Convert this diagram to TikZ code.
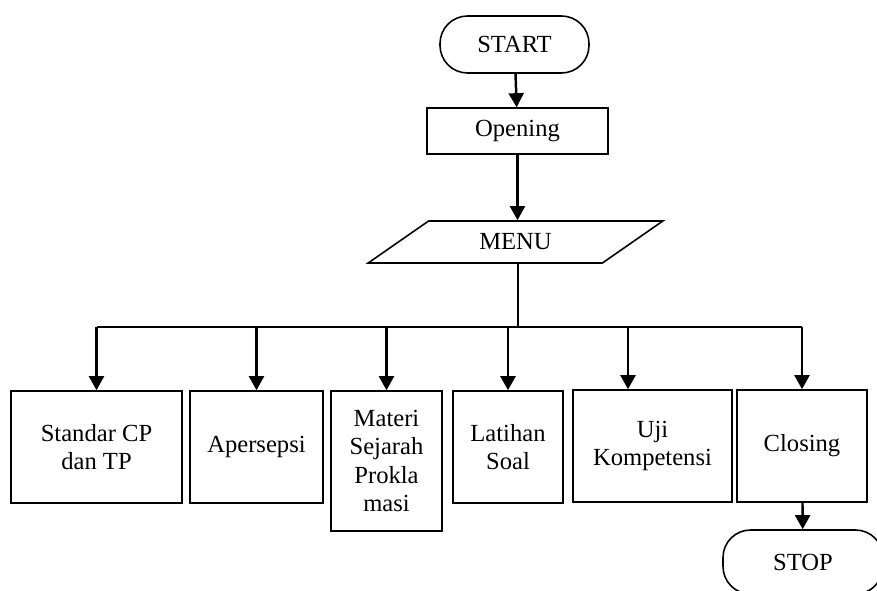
\documentclass[tikz,border=0pt]{standalone}
\usepackage{fontspec}
\setmainfont{Liberation Serif}
\usetikzlibrary{arrows.meta,shapes.geometric,calc}

\begin{document}
\begin{tikzpicture}[x=0.02cm, y=-0.02cm,
  every node/.style={font=\fontsize{14}{16.3}\selectfont, inner sep=0pt, align=center},
  bx/.style={draw, line width=0.9pt, minimum height=2.24cm},
  term/.style={draw, line width=0.9pt, rounded corners=0.55cm},
  ln/.style={line width=1.4pt},
  arr/.style={ln, -{Triangle[length=8pt,width=8.5pt]}}]
\path[use as bounding box, clip] (0,0) rectangle (877,591);
% top part
\node[term, minimum width=2.98cm, minimum height=1.14cm] (start) at (514.5,44.5) {START};
\node[bx, minimum width=3.62cm, minimum height=0.92cm] (open) at (517.5,131) {Opening};
\node[trapezium, draw, line width=0.9pt, trapezium left angle=33, trapezium right angle=147,
  trapezium stretches=true, minimum width=5.9cm, minimum height=0.84cm] (menu) at (515.5,242) {MENU};
\coordinate (bus) at (518,327);
% menu items
\node[bx, minimum width=3.42cm] (cp) at (96.5,447) {Standar CP\\dan TP};
\node[bx, minimum width=2.66cm] (aper) at (256.5,447) {Apersepsi};
\node[bx, minimum width=2.22cm, minimum height=2.8cm] (materi) at (386.5,461) {Materi\\Sejarah\\Prokla\\masi};
\node[bx, minimum width=2.2cm] (latihan) at (508,447) {Latihan\\Soal};
\node[bx, minimum width=3.18cm] (uji) at (652.5,446) {Uji\\Kompetensi};
\node[bx, minimum width=2.6cm] (closing) at (802,446) {Closing};
\node[term, minimum width=3.2cm, minimum height=1.28cm] (stop) at (803,562) {STOP};
% arrows
\draw[arr] (start) -- (open);
\draw[arr] (open) -- (menu.north -| open);
\draw[ln] (menu.south -| bus) -- (bus);
\draw[ln] (cp.north |- bus) -- (closing.north |- bus);
\foreach \n in {cp,aper,materi,latihan,closing}
  \draw[arr] (\n.north |- bus) -- (\n.north);
\draw[arr] ([xshift=-0.49cm]uji.north |- bus) -- ([xshift=-0.49cm]uji.north);
\draw[arr] (closing) -- (stop);
\end{tikzpicture}
\end{document}
